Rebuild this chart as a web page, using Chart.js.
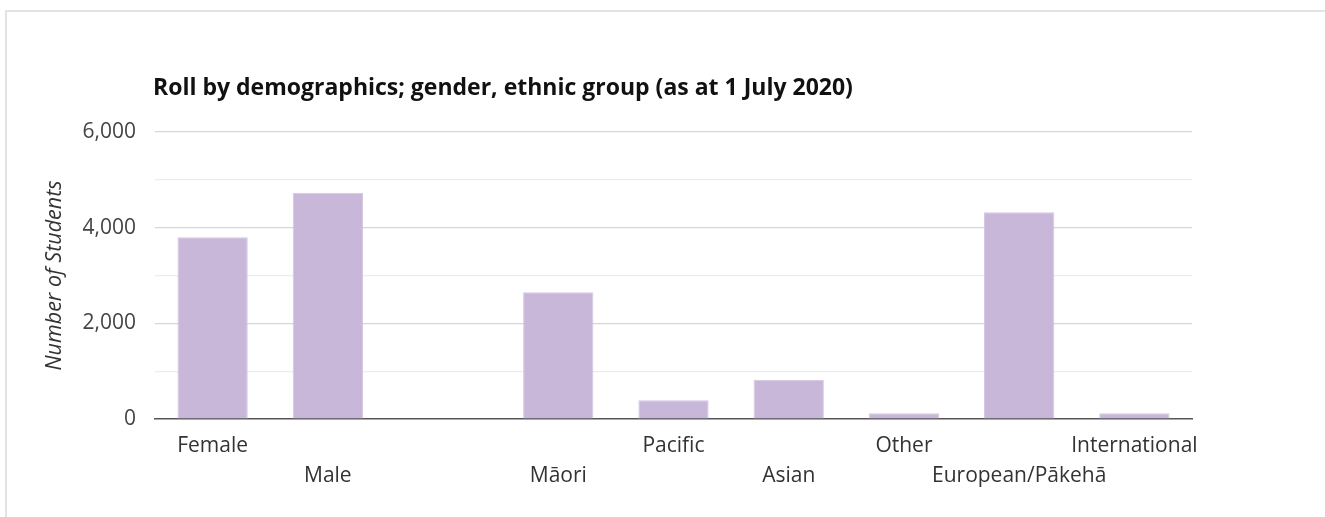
<!DOCTYPE html>
<html>
<head>
<meta charset="utf-8">
<script src="https://cdn.jsdelivr.net/npm/chart.js@4"></script>
<style>
  html, body { margin: 0; padding: 0; background: #fff; }
  #frame {
    position: absolute; left: 5px; top: 10px; width: 1330px; height: 520px;
    border-top: 2px solid #e3e3e3; border-left: 2px solid #e3e3e3;
  }
  #wrap { position: absolute; left: 0; top: 0; width: 1325px; height: 517px; }
</style>
</head>
<body>
<div id="frame"></div>
<div id="wrap"><canvas id="rollChart"></canvas></div>
<script>
const categories = [
    ["Female", ""], ["", "Male"], ["", ""], ["", "Māori"], ["Pacific", ""],
    ["", "Asian"], ["Other", ""], ["", "European/Pākehā"], ["International", ""]
];
const students = [3800, 4730, null, 2650, 390, 820, 120, 4320, 120];
const TITLE = "Roll by demographics; gender, ethnic group (as at 1 July 2020)";
const FONT = "'Open Sans', sans-serif";

const titlePlugin = {
    id: "leftTitle",
    afterDraw(chart) {
        const ctx = chart.ctx;
        ctx.save();
        ctx.font = "bold 23px " + FONT;
        ctx.fillStyle = "#111";
        ctx.textBaseline = "middle";
        ctx.textAlign = "left";
        ctx.fillText(TITLE, chart.chartArea.left - 2, 88);
        ctx.restore();
    }
};

const ctx = document.getElementById("rollChart").getContext("2d");

new Chart(ctx, {
    type: "bar",
    data: {
        labels: categories,
        datasets: [{
            label: "Number of Students",
            data: students,
            backgroundColor: "#c8b7d9",
            borderColor: "#d4c7e2",
            borderWidth: 1,
            barPercentage: 1,
            categoryPercentage: 0.61
        }]
    },
    plugins: [titlePlugin],
    options: {
        responsive: true,
        maintainAspectRatio: false,
        animation: false,
        layout: { padding: { left: 42, right: 133, top: 132, bottom: 0 } },
        plugins: {
            legend: { display: false },
            tooltip: { enabled: false }
        },
        scales: {
            x: {
                afterFit: s => { s.height = 98; },
                grid: { display: false, drawTicks: false },
                border: { color: "#555", width: 1.5 },
                ticks: {
                    color: "#333",
                    maxRotation: 0,
                    autoSkip: false,
                    padding: 12,
                    font: { family: FONT, size: 21, lineHeight: 1.43 }
                }
            },
            y: {
                min: 0,
                max: 6000,
                afterFit: s => { s.width = 113; },
                border: { display: false },
                grid: {
                    drawTicks: false,
                    lineWidth: 1.2,
                    color: c => c.tick.value === 0 ? "rgba(0,0,0,0)" :
                        (c.tick.value % 2000 === 0 ? "#d6d6d6" : "#ececec")
                },
                ticks: {
                    stepSize: 1000,
                    padding: 19,
                    color: "#444",
                    font: { family: FONT, size: 21 },
                    callback: v => v % 2000 === 0 ? v.toLocaleString("en-US") : ""
                },
                title: {
                    display: true,
                    text: "Number of Students",
                    color: "#333",
                    padding: 0,
                    font: { family: FONT, size: 21.5, style: "italic", lineHeight: 1.2 }
                }
            }
        }
    }
});
</script>
</body>
</html>
